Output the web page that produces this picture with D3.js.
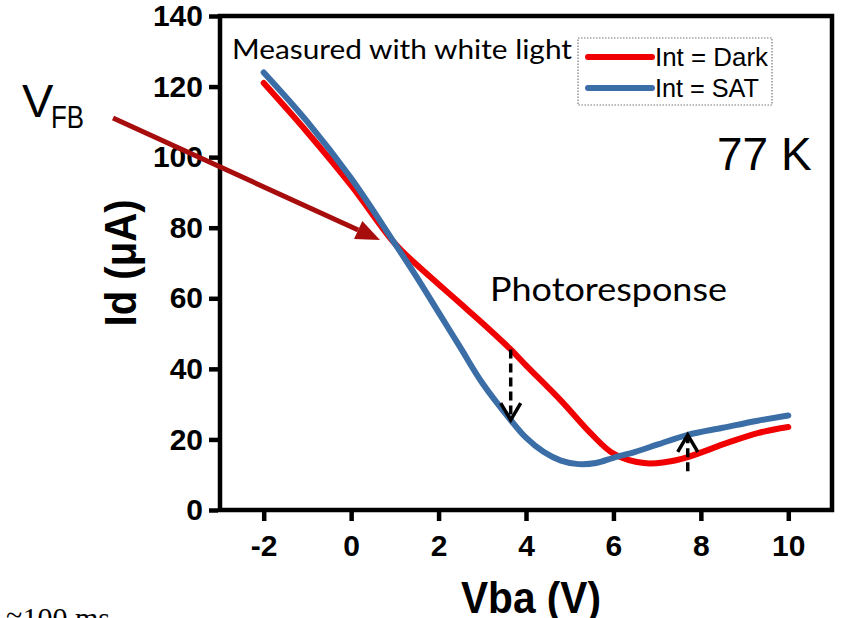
<!DOCTYPE html>
<html>
<head>
<meta charset="utf-8">
<script src="https://cdn.jsdelivr.net/npm/d3@7"></script>
<style>
  html, body { margin: 0; padding: 0; background: #fff; }
  svg { display: block; }
</style>
</head>
<body>
<svg id="chart" width="845" height="618"></svg>
<script>
// Drain current vs. bias voltage at 77 K, dark and saturated illumination
const xTicks = [-2, 0, 2, 4, 6, 8, 10];
const yTicks = [0, 20, 40, 60, 80, 100, 120, 140];

const darkV  = [-2, -1, 0, 1, 1.5, 2, 2.5, 3, 3.65, 4, 4.8, 5.5, 6, 6.7, 7.2, 7.7, 8.6, 9.3, 10];
const darkI  = [121, 107, 92, 75.5, 69.5, 64, 58.5, 53, 45.5, 41, 31, 21.5, 16, 13.3, 13.6, 15, 19, 21.8, 23.5];

const satV   = [-2, -1, 0, 1, 1.5, 2, 2.5, 3, 3.65, 4, 4.4, 4.8, 5.2, 5.6, 6, 6.5, 7, 7.7, 8.5, 9.3, 10];
const satI   = [124, 110, 94, 75.5, 66, 56, 46, 36, 25.5, 20.5, 16.5, 14, 13, 13.3, 14.8, 16.5, 18.5, 21.3, 23.3, 25.3, 26.8];

const seriesNames = ["Int = Dark", "Int = SAT"];
const seriesColors = ["#f00000", "#3b6ea6"];

// photoresponse markers: bias, start current, end current
const respV    = [3.65, 7.7];
const respFrom = [45.5, 11.0];
const respTo   = [25.5, 21.3];

const svg = d3.select("#chart");

const x = d3.scaleLinear().domain([-3, 11]).range([220, 832]);
const y = d3.scaleLinear().domain([0, 140]).range([510, 16]);

// plot frame
svg.append("rect")
  .attr("x", x(-3)).attr("y", y(140))
  .attr("width", x(11) - x(-3)).attr("height", y(0) - y(140))
  .attr("fill", "none").attr("stroke", "#000").attr("stroke-width", 4.5);

// axes
const yAxis = svg.append("g")
  .attr("transform", `translate(${x(-3)},0)`)
  .call(d3.axisLeft(y).tickValues(yTicks).tickFormat(d => String(d))
    .tickSize(11).tickPadding(6).tickSizeOuter(0));
const xAxis = svg.append("g")
  .attr("transform", `translate(0,${y(0)})`)
  .call(d3.axisBottom(x).tickValues(xTicks).tickFormat(d => String(d))
    .tickSize(11).tickPadding(8).tickSizeOuter(0));

[xAxis, yAxis].forEach(g => {
  g.select(".domain").remove();
  g.selectAll(".tick line").attr("stroke", "#000").attr("stroke-width", 4.5);
  g.selectAll(".tick text")
    .attr("fill", "#000")
    .style("font-family", "'Liberation Sans', Arial, sans-serif")
    .style("font-weight", "bold")
    .style("font-size", "30px");
});
xAxis.selectAll(".tick text").attr("dy", "0.9em");
yAxis.selectAll(".tick line").attr("x1", -2);

// axis titles
svg.append("text")
  .attr("transform", "translate(136,263) rotate(-90)")
  .attr("text-anchor", "middle")
  .attr("textLength", 127).attr("lengthAdjust", "spacingAndGlyphs")
  .style("font-family", "'Liberation Sans', Arial, sans-serif")
  .style("font-weight", "bold").style("font-size", "44px")
  .text("Id (μA)");

svg.append("text")
  .attr("x", 531).attr("y", 613)
  .attr("text-anchor", "middle")
  .attr("textLength", 140).attr("lengthAdjust", "spacingAndGlyphs")
  .style("font-family", "'Liberation Sans', Arial, sans-serif")
  .style("font-weight", "bold").style("font-size", "44px")
  .text("Vba (V)");

// curves
const line = d3.line()
  .x(d => x(d[0])).y(d => y(d[1]))
  .curve(d3.curveCatmullRom.alpha(0.5));

const series = [
  d3.zip(darkV, darkI),
  d3.zip(satV, satI)
];

series.forEach((pts, i) => {
  svg.append("path")
    .datum(pts)
    .attr("d", line)
    .attr("fill", "none")
    .attr("stroke", seriesColors[i])
    .attr("stroke-width", 6)
    .attr("stroke-linecap", "round")
    .attr("stroke-linejoin", "round");
});

// photoresponse arrows
respV.forEach((v, i) => {
  const x0 = x(v), y0 = y(respFrom[i]), y1 = y(respTo[i]);
  const dir = Math.sign(y1 - y0);
  svg.append("line")
    .attr("x1", x0).attr("x2", x0)
    .attr("y1", y0).attr("y2", y1 - dir * 2)
    .attr("stroke", "#000").attr("stroke-width", 3.5)
    .attr("stroke-dasharray", "9,5");
  svg.append("path")
    .attr("d", `M${x0 - 10},${y1 - dir * 17} L${x0},${y1} L${x0 + 10},${y1 - dir * 17}`)
    .attr("fill", "none").attr("stroke", "#000").attr("stroke-width", 3.5)
    .attr("stroke-linejoin", "miter");
});

// annotation text
const sans = "Lato, 'Open Sans', sans-serif";
svg.append("text")
  .attr("x", 232).attr("y", 59)
  .attr("textLength", 340).attr("lengthAdjust", "spacingAndGlyphs")
  .style("font-family", sans).style("font-size", "26px").attr("fill", "#000")
  .text("Measured with white light");

svg.append("text")
  .attr("x", 490).attr("y", 301)
  .attr("textLength", 237).attr("lengthAdjust", "spacingAndGlyphs")
  .style("font-family", sans).style("font-size", "32px").attr("fill", "#000")
  .text("Photoresponse");

svg.append("text")
  .attr("x", 717).attr("y", 170)
  .style("font-family", "'Liberation Sans', Arial, sans-serif")
  .style("font-size", "46px").attr("fill", "#000")
  .text("77 K");

// legend
const legend = svg.append("g");
legend.append("rect")
  .attr("x", 578).attr("y", 38).attr("width", 194).attr("height", 67)
  .attr("fill", "#fff").attr("stroke", "#777").attr("stroke-width", 1.2)
  .attr("stroke-dasharray", "1.5,1.5");
seriesNames.forEach((name, i) => {
  const ly = 57 + i * 31;
  legend.append("line")
    .attr("x1", 588).attr("x2", 652).attr("y1", ly).attr("y2", ly)
    .attr("stroke", seriesColors[i]).attr("stroke-width", 6)
    .attr("stroke-linecap", "round");
  legend.append("text")
    .attr("x", 655).attr("y", ly + 9)
    .attr("textLength", i === 0 ? 113 : 104).attr("lengthAdjust", "spacingAndGlyphs")
    .style("font-family", "'Liberation Sans', Arial, sans-serif")
    .style("font-size", "26px").attr("fill", "#000")
    .text(name);
});

// flat-band voltage pointer
svg.append("text")
  .attr("x", 22).attr("y", 117)
  .style("font-family", "'Liberation Sans', Arial, sans-serif")
  .style("font-size", "47px").attr("fill", "#000")
  .text("V");
svg.append("text")
  .attr("x", 51).attr("y", 128)
  .attr("textLength", 33).attr("lengthAdjust", "spacingAndGlyphs")
  .style("font-family", "'Liberation Sans', Arial, sans-serif")
  .style("font-size", "31px").attr("fill", "#000")
  .text("FB");

const ax0 = 113, ay0 = 118, ax1 = 380, ay1 = 240;
const ang = Math.atan2(ay1 - ay0, ax1 - ax0);
const headLen = 24, headW = 10;
const bx = ax1 - headLen * Math.cos(ang), by = ay1 - headLen * Math.sin(ang);
svg.append("line")
  .attr("x1", ax0).attr("y1", ay0).attr("x2", bx).attr("y2", by)
  .attr("stroke", "#a80d0d").attr("stroke-width", 5);
svg.append("path")
  .attr("d", `M${ax1},${ay1} L${bx + headW * Math.sin(ang)},${by - headW * Math.cos(ang)} L${bx - headW * Math.sin(ang)},${by + headW * Math.cos(ang)} Z`)
  .attr("fill", "#a80d0d");

// timing note at the lower edge
svg.append("text")
  .attr("x", 6).attr("y", 628)
  .style("font-family", "'Liberation Serif', 'Times New Roman', serif")
  .style("font-size", "30px").attr("fill", "#000")
  .text("≈100 ms");
</script>
</body>
</html>
